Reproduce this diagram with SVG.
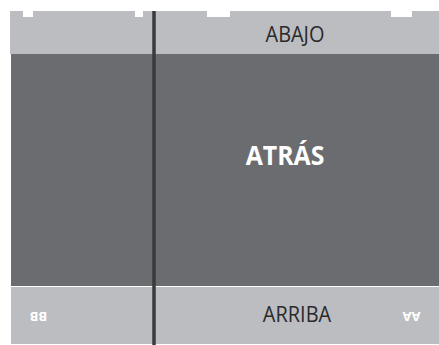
<svg xmlns="http://www.w3.org/2000/svg" width="439" height="345" viewBox="0 0 439 345">
<style>
.light{fill:#bcbdc0}
.dark{fill:#6b6c70}
.notch{fill:#ffffff}
.lbl{font-family:"Open Sans","Liberation Sans",sans-serif;fill:#2a2a2c;text-anchor:middle}
.big{font-family:"Open Sans","Liberation Sans",sans-serif;font-weight:bold;fill:#ffffff;text-anchor:middle}
.small{font-family:"Open Sans","Liberation Sans",sans-serif;font-weight:bold;fill:#ffffff;text-anchor:middle;font-size:13px}
</style>
<rect width="439" height="345" fill="#ffffff"/>
<g id="abajo">
<rect class="light" x="10" y="11" width="429" height="43"/>
<rect class="notch" x="23" y="10" width="10" height="7"/>
<rect class="notch" x="135" y="10" width="8" height="7"/>
<rect class="notch" x="207" y="10" width="23" height="7"/>
<rect class="notch" x="391" y="10" width="21" height="7"/>
<text class="lbl" x="295" y="42" font-size="21" transform="translate(295,0) scale(0.95,1) translate(-295,0)">ABAJO</text>
</g>
<g id="atras">
<rect class="dark" x="11" y="54" width="428" height="232"/>
<text class="big" x="285" y="165" font-size="27" transform="translate(285,0) scale(0.92,1) translate(-285,0)">ATRÁS</text>
</g>
<g id="arriba">
<rect class="light" x="11" y="287" width="428" height="57"/>
<text class="lbl" x="297" y="322" font-size="21" transform="translate(297,0) scale(0.95,1) translate(-297,0)">ARRIBA</text>
<text class="small" transform="translate(38.5,317) rotate(180)" dominant-baseline="central">BB</text>
<text class="small" transform="translate(411.5,316.5) rotate(180)" dominant-baseline="central">AA</text>
</g>
<g id="connectors">
<line x1="154" y1="11" x2="154" y2="345" stroke="#3a3a3c" stroke-width="3.5"/>
</g>
</svg>
